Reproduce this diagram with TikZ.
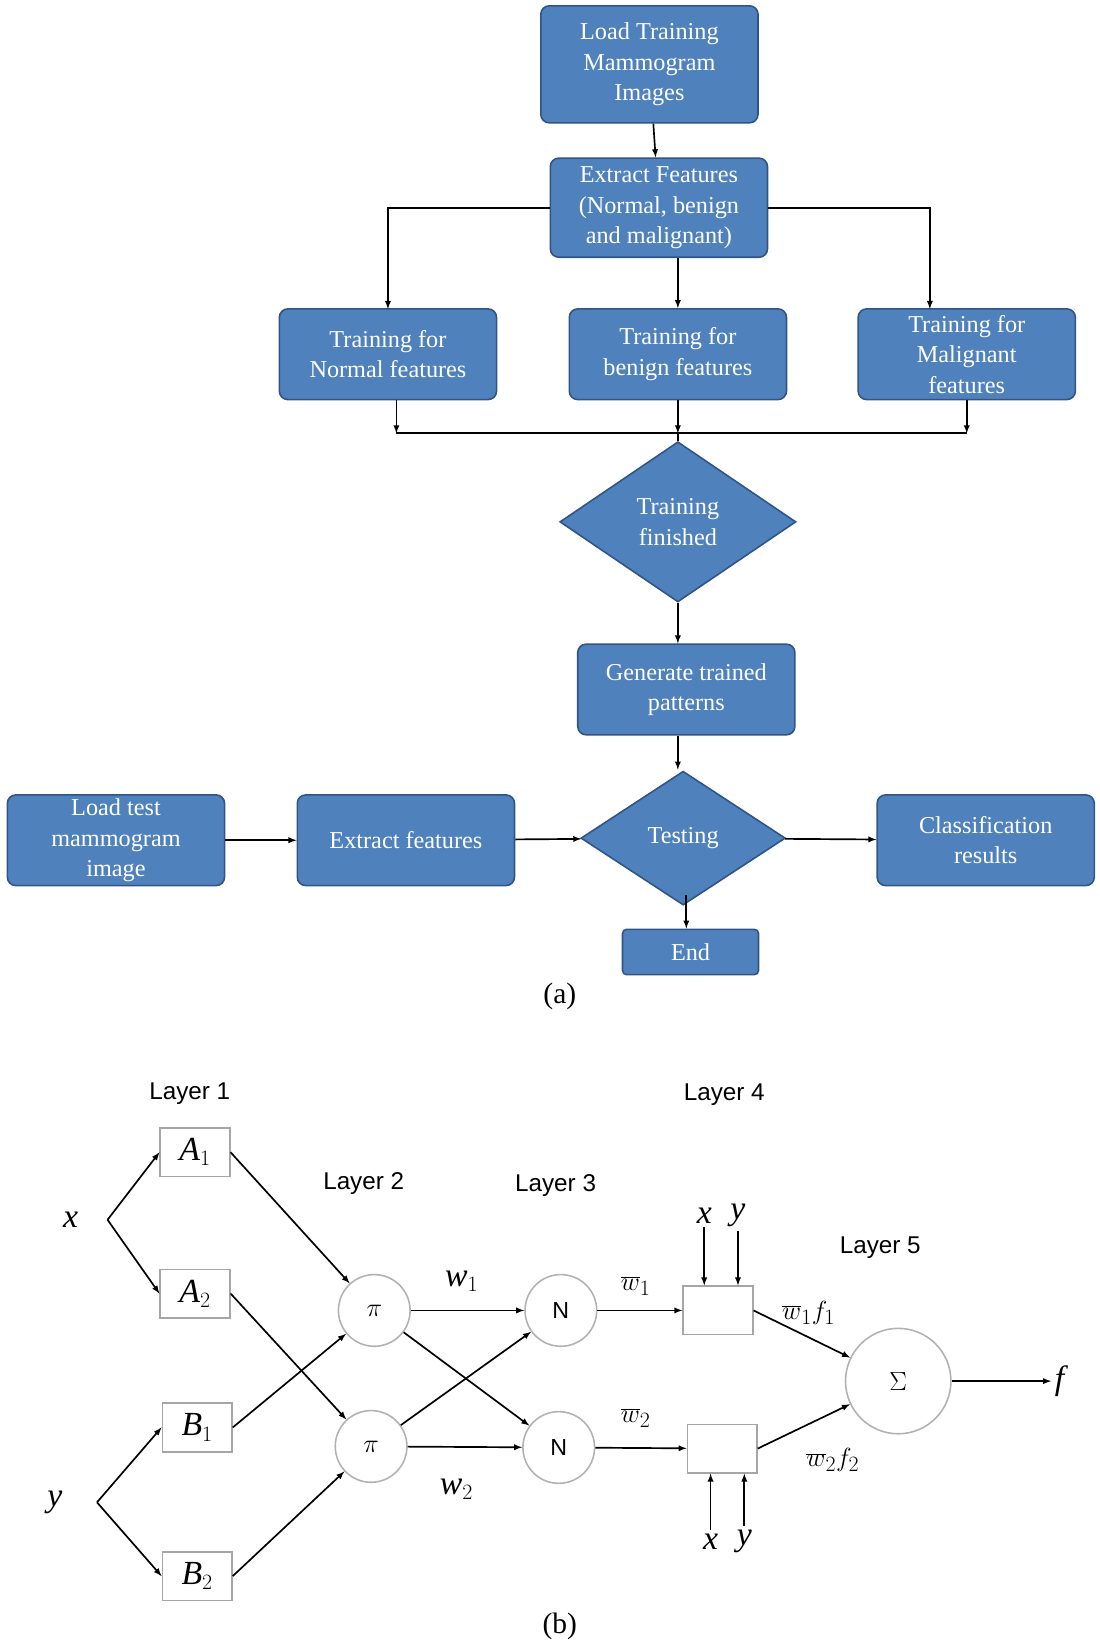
\documentclass[tikz,border=0pt]{standalone}
\usepackage{fontspec}
\setmainfont{Liberation Serif}
\setsansfont{Liberation Sans}
\usetikzlibrary{shapes.geometric}
\definecolor{boxblue}{HTML}{4F81BD}
\definecolor{boxedge}{HTML}{2F5485}
\begin{document}
\begin{tikzpicture}[x=1pt,y=-1pt,>=latex,
  flow/.style={draw=boxedge,line width=1.5pt,fill=boxblue,rounded corners=8pt,text=white,
    minimum width=206pt,minimum height=86pt,align=center,font=\fontsize{23}{29}\selectfont},
  choice/.style={diamond,draw=boxedge,line width=1.5pt,fill=boxblue,text=white,aspect=1.5,
    inner sep=0pt,align=center,font=\fontsize{23}{29}\selectfont},
  cell/.style={draw=gray!70,line width=1.5pt,fill=white,minimum width=66pt,minimum height=46pt,
    font=\fontsize{32}{32}\selectfont\itshape},
  unit/.style={circle,draw=gray!60,line width=1.5pt,minimum size=68pt,inner sep=0pt},
  layer/.style={font=\sffamily\fontsize{23}{23}\selectfont},
  lab/.style={font=\fontsize{32}{32}\selectfont\itshape},
  line/.style={line width=1.6pt}]
\useasboundingbox (0,0) rectangle (1043,1567);
{\centering
% (a) training flow
\node[flow,minimum height=111pt] (loadtrain) at (616,61) {Load Training\\Mammogram\\Images};
\node[flow,minimum height=94pt] (extract) at (625,197) {Extract Features\\(Normal, benign\\and malignant)};
\node[flow] (normal) at (368,336) {Training for\\Normal features};
\node[flow] (benign) at (643,336) {Training for\\benign features};
\node[flow] (malig) at (917,336) {Training for\\Malignant\\features};
\coordinate (busl) at (376,411);
\coordinate (busm) at (643,411);
\coordinate (busr) at (917,411);
\node[choice,minimum width=224pt,minimum height=152pt] (finished) at (643,495) {Training\\finished};
\node[flow] (generate) at (651,654) {Generate trained\\patterns};
\node[choice,minimum width=194pt,minimum height=127pt] (testing) at (648,795) {Testing};
\node[flow] (loadtest) at (110,797) {Load test\\mammogram\\image};
\node[flow] (extest) at (385,797) {Extract features};
\node[flow] (result) at (935,797) {Classification\\results};
\node[flow,minimum width=129pt,minimum height=43pt,rounded corners=4pt] (end) at (655,903) {End};
\node[font=\fontsize{28}{28}\selectfont] (capa) at (531,945) {(a)};

\draw[->,line] (loadtrain) -- (extract);
\draw[->,line] (extract.west) -| (368,293);
\draw[->,line] (extract.east) -| (882,293);
\draw[->,line] (extract.south -| benign) -- (benign);
\draw[->,line] (376,379) -- (busl);
\draw[->,line] (917,379) -- (busr);
\draw[->,line] (benign) -- (busm);
\draw[line] (busl) -- (busr);
\draw[line] (busm) -- (finished.north);
\draw[->,line] (finished.south) -- (generate.north -| finished.south);
\draw[->,line] (generate.south -| 643,0) -- (643,730);
\draw[->,line] (loadtest) -- (extest);
\draw[->,line] (extest) -- (testing);
\draw[->,line] (testing) -- (result);
\draw[->,line] (651,849) -- (end.north -| 651,0);

% (b) network
\node[layer] (l1) at (180,1037) {Layer 1};
\node[layer] (l2) at (345,1123) {Layer 2};
\node[layer] (l3) at (527,1125) {Layer 3};
\node[layer] (l4) at (687,1038) {Layer 4};
\node[layer] (l5) at (835,1183) {Layer 5};
\node[lab] (x) at (67,1157) {x};
\node[lab] (y) at (52,1425) {y};
\coordinate (xs) at (102,1157);
\coordinate (ys) at (92,1425);
\node[cell] (a1) at (185,1093) {A$_1$};
\node[cell] (a2) at (185,1227) {A$_2$};
\node[cell] (b1) at (187,1354) {B$_1$};
\node[cell] (b2) at (187,1495) {B$_2$};
\node[unit,font=\fontsize{40}{40}\selectfont] (p1) at (355,1243) {$\pi$};
\node[unit,font=\fontsize{40}{40}\selectfont] (p2) at (352,1372) {$\pi$};
\node[unit,font=\sffamily\fontsize{22}{22}\selectfont] (n1) at (532,1243) {N};
\node[unit,font=\sffamily\fontsize{22}{22}\selectfont] (n2) at (530,1373) {N};
\node[cell] (m1) at (681,1243) {};
\node[cell] (m2) at (685,1374) {};
\node[unit,minimum size=100pt,font=\fontsize{44}{44}\selectfont] (sum) at (852,1310) {$\Sigma$};
\node[lab] (f) at (1005,1310) {f};
\node[lab] (x1) at (668,1153) {x};
\node[lab] (y1) at (700,1153) {y};
\node[lab] (x2) at (674,1462) {x};
\node[lab] (y2) at (706,1462) {y};
\node[lab] (w1) at (438,1215) {w$_1$};
\node[lab] (w2) at (433,1413) {w$_2$};
\node[lab] (v1) at (603,1220) {$\overline{w}_1$};
\node[lab] (v2) at (603,1345) {$\overline{w}_2$};
\node[lab] (g1) at (767,1245) {$\overline{w}_1 f_1$};
\node[lab] (g2) at (790,1385) {$\overline{w}_2 f_2$};
\node[font=\fontsize{28}{28}\selectfont] (capb) at (531,1543) {(b)};

\draw[->,line] (xs) -- (a1.west);
\draw[->,line] (xs) -- (a2.west);
\draw[->,line] (ys) -- (b1.west);
\draw[->,line] (ys) -- (b2.west);
\draw[->,line] (a1.east) -- (p1);
\draw[->,line] (a2.east) -- (p2);
\draw[->,line] (b1.east) -- (p1);
\draw[->,line] (b2.east) -- (p2);
\draw[->,line] (p1) -- (n1);
\draw[->,line] (p1) -- (n2);
\draw[->,line] (p2) -- (n1);
\draw[->,line] (p2) -- (n2);
\draw[->,line] (n1) -- (m1);
\draw[->,line] (n2) -- (m2);
\draw[->,line] (m1.east) -- (sum);
\draw[->,line] (m2.east) -- (sum);
\draw[->,line] (sum) -- (f);
\draw[->,line] (x1.south) -- (x1.south |- m1.north);
\draw[->,line] (y1.south) -- (y1.south |- m1.north);
\draw[->,line] (x2.north) -- (x2.north |- m2.south);
\draw[->,line] (y2.north) -- (y2.north |- m2.south);
}
\end{tikzpicture}
\end{document}
